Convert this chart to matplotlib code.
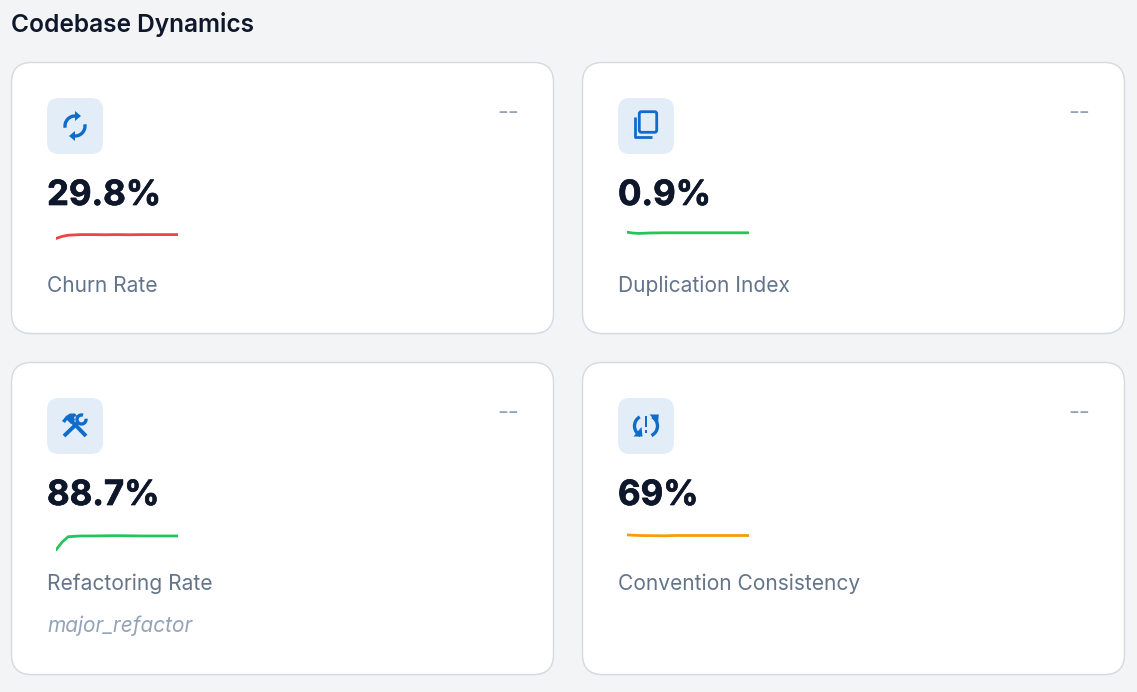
import numpy as np
import matplotlib
matplotlib.use('Agg')
import matplotlib.pyplot as plt
import matplotlib.patheffects as pe
from matplotlib.patches import FancyBboxPatch, Arc, Polygon, Rectangle

plt.rcParams['font.family'] = ['Inter', 'DejaVu Sans']

W, H = 1137, 692
BG = '#f3f4f6'
BORDER = '#d6d9de'
ICON_BG = '#e3edf8'
ICON = '#0f6ccb'
DARK = '#0f172a'
GREY = '#64748b'
LIGHT = '#94a3b8'

title = 'Codebase Dynamics'
values = ['29.8%', '0.9%', '88.7%', '69%']
labels = ['Churn Rate', 'Duplication Index', 'Refactoring Rate', 'Convention Consistency']
notes = ['', '', 'major_refactor', '']
colors = ['#ef4444', '#22c55e', '#22c55e', '#f59e0b']
icons = ['sync', 'copy', 'tools', 'alert']

# sparkline values, 0-1 in the little plot area
spark_x = [0, 0.05, 0.1, 0.2, 0.3, 0.4, 0.5, 0.6, 0.7, 0.8, 0.9, 1]
spark_churn = [0.45, 0.52, 0.56, 0.58, 0.58, 0.575, 0.58, 0.575, 0.58, 0.58, 0.58, 0.58]
spark_dup = [0.66, 0.63, 0.62, 0.635, 0.64, 0.64, 0.64, 0.64, 0.64, 0.64, 0.64, 0.64]
spark_refactor = [0.07, 0.33, 0.51, 0.535, 0.535, 0.54, 0.545, 0.54, 0.535, 0.535, 0.535, 0.535]
spark_conv = [0.57, 0.56, 0.55, 0.545, 0.54, 0.55, 0.55, 0.55, 0.55, 0.55, 0.55, 0.55]
sparks = [spark_churn, spark_dup, spark_refactor, spark_conv]

fig = plt.figure(figsize=(W / 100, H / 100), dpi=100, facecolor=BG)
ax = fig.add_axes([0, 0, 1, 1])
ax.set_xlim(0, W)
ax.set_ylim(H, 0)
ax.axis('off')


def px(size):
    return size * 0.72


def arc(cx, cy, r, t1, t2, lw=2.4):
    # t1/t2 in degrees, y axis points down here
    ax.add_patch(Arc((cx, cy), 2 * r, 2 * r, theta1=t1, theta2=t2, color=ICON, lw=lw, zorder=4))


def tri(cx, cy, pts):
    ax.add_patch(Polygon([[cx + a, cy + b] for a, b in pts], color=ICON, lw=0, zorder=4))


def icon_sync(cx, cy):
    arc(cx, cy, 10, 170, 280)
    arc(cx, cy, 10, -10, 100)
    tri(cx, cy, [(0, -15), (6, -10), (0, -5)])
    tri(cx, cy, [(0, 15), (-6, 10), (0, 5)])


def icon_copy(cx, cy):
    ax.add_patch(FancyBboxPatch((cx - 6.7, cy - 14.3), 17.4, 20.6, boxstyle='round,pad=0,rounding_size=2',
                                fc='none', ec=ICON, lw=2.0, zorder=4))
    ax.plot([cx - 11.3, cx - 11.3, cx + 5.7], [cy - 9.3, cy + 11.3, cy + 11.3], color=ICON, lw=2.0, zorder=4,
            solid_capstyle='butt', solid_joinstyle='round')


def icon_tools(cx, cy):
    ax.plot([cx - 11, cx + 2.5], [cy + 10, cy - 3], color=ICON, lw=2.8, zorder=4, solid_capstyle='butt')
    ax.plot([cx + 11, cx - 3.5], [cy + 10, cy - 5], color=ICON, lw=2.8, zorder=4, solid_capstyle='butt')
    tri(cx, cy, [(-13, -5), (-9, -10), (-5, -12.5), (0, -12.5), (2, -10), (-1, -9),
                 (0, -6), (-4, -2), (-8, -6), (-10, -3)])
    arc(cx + 6.5, cy - 6.5, 4.5, 350, 290, lw=2.4)


def icon_alert(cx, cy):
    arc(cx - 1, cy, 10.5, 115, 240)
    arc(cx + 1, cy, 10.5, -60, 65)
    tri(cx, cy, [(-12.5, 10.5), (-3.5, 10.5), (-4.5, 1)])
    tri(cx, cy, [(12.8, -11.5), (3.5, -11.5), (12, -2.5)])
    ax.add_patch(Rectangle((cx - 1.1, cy - 10), 2.2, 11, color=ICON, lw=0, zorder=4))
    ax.add_patch(Rectangle((cx - 1.3, cy + 4), 2.6, 3, color=ICON, lw=0, zorder=4))


icon_funcs = dict(sync=icon_sync, copy=icon_copy, tools=icon_tools, alert=icon_alert)

ax.text(11, 24.5, title, fontsize=px(24.5), fontweight='semibold', color=DARK, va='center', ha='left')

lefts = [11.5, 582.5, 11.5, 582.5]
tops = [62.5, 62.5, 362.5, 362.5]
heights = [271, 271, 312, 312]
label_dy = [223, 223, 221, 221]
card_w = 542

for i in range(4):
    x0, y0 = lefts[i], tops[i]
    ax.add_patch(FancyBboxPatch((x0, y0 + 1), card_w, heights[i], boxstyle='round,pad=0,rounding_size=20',
                                fc='#e9ebee', ec='none', zorder=1))
    ax.add_patch(FancyBboxPatch((x0, y0), card_w, heights[i], boxstyle='round,pad=0,rounding_size=20',
                                fc='white', ec=BORDER, lw=1, zorder=2))
    ax.add_patch(FancyBboxPatch((x0 + 35.5, y0 + 35.5), 56, 56, boxstyle='round,pad=0,rounding_size=12',
                                fc=ICON_BG, ec='none', zorder=3))
    icon_funcs[icons[i]](x0 + 63.5, y0 + 63.5)
    ax.text(x0 + 497, y0 + 50.5, '--', fontsize=px(24), color=LIGHT, ha='center', va='center', zorder=4)
    val = ax.text(x0 + 35.5, y0 + 133.5, values[i], fontsize=px(34.8), fontweight='bold', color=DARK,
                  va='center', ha='left', zorder=4)
    val.set_path_effects([pe.withStroke(linewidth=0.5, foreground=DARK)])
    ax.text(x0 + 35.5, y0 + label_dy[i], labels[i], fontsize=px(21), color=GREY,
            va='center', ha='left', zorder=4)
    if notes[i]:
        ax.text(x0 + 35.5, y0 + 263, notes[i], fontsize=px(20.8), color=LIGHT, style='italic',
                va='center', ha='left', zorder=4)

    # little trend line in its own axes
    sx = x0 + 44.5
    sy_top = y0 + 159.5
    sp = fig.add_axes([sx / W, 1 - (sy_top + 30) / H, 122 / W, 30 / H])
    sp.set_xlim(0, 1)
    sp.set_ylim(0, 1)
    sp.axis('off')
    sp.patch.set_alpha(0)
    sp.plot(spark_x, sparks[i], color=colors[i], lw=2.0, solid_capstyle='round')

fig.savefig('out.png', dpi=100, facecolor=BG)
